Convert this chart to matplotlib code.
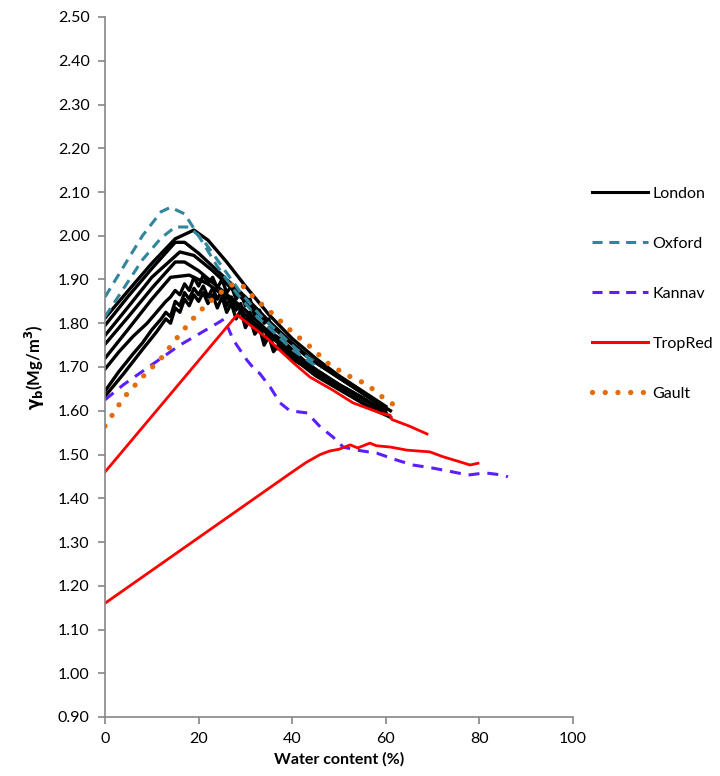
import numpy as np
import matplotlib.pyplot as plt
from matplotlib.lines import Line2D
from matplotlib.ticker import FormatStrFormatter, MultipleLocator

plt.rcParams['font.family'] = ['Lato', 'DejaVu Sans']

# --- compaction curves: water content (%) vs bulk unit weight (Mg/m3) ---
london_w = [
    [0, 5, 10, 15, 19, 22, 26, 30, 35, 40, 45, 50, 55, 60],
    [0, 5, 10, 15, 17, 20, 25, 30, 35, 40, 45, 50, 55, 59],
    [0, 5, 10, 16, 19, 23, 28, 33, 38, 43, 48, 53, 58, 61],
    [0, 5, 10, 15, 17, 20, 25, 30, 35, 40, 45, 50, 55, 60],
    [0, 5, 10, 14, 18, 22, 27, 32, 37, 42, 47, 52, 57, 60],
    [0, 3, 6, 9, 11, 13, 14, 15, 16, 17, 18, 19, 20, 21, 22, 23, 24, 25, 26, 27,
     28, 29, 30, 31, 32, 33, 34, 35, 36, 38, 41, 44, 47, 50, 55, 59],
    [0, 3, 6, 8, 10, 12, 13, 14, 15, 16, 17, 18, 19, 20, 21, 22, 23, 24, 25, 26,
     27, 28, 29, 30, 31, 32, 33, 34, 35, 36, 38, 40, 43, 46, 50, 54, 58],
    [0, 4, 8, 11, 13, 14, 15, 16, 17, 18, 19, 20, 21, 22, 23, 24, 25, 26, 27, 28,
     29, 30, 31, 32, 33, 34, 35, 36, 37, 39, 42, 45, 49, 53, 57, 61],
]
london_g = [
    [1.812, 1.875, 1.937, 1.993, 2.013, 1.99, 1.94, 1.885, 1.82, 1.765, 1.72, 1.68, 1.645, 1.61],
    [1.795, 1.862, 1.925, 1.985, 1.985, 1.96, 1.91, 1.86, 1.805, 1.755, 1.71, 1.675, 1.64, 1.61],
    [1.772, 1.838, 1.905, 1.963, 1.955, 1.92, 1.87, 1.82, 1.77, 1.725, 1.69, 1.655, 1.62, 1.60],
    [1.752, 1.815, 1.88, 1.94, 1.94, 1.92, 1.875, 1.83, 1.78, 1.735, 1.695, 1.66, 1.63, 1.595],
    [1.72, 1.787, 1.855, 1.905, 1.91, 1.89, 1.85, 1.80, 1.755, 1.71, 1.675, 1.645, 1.615, 1.60],
    [1.695, 1.735, 1.77, 1.80, 1.825, 1.85, 1.86, 1.875, 1.865, 1.89, 1.875, 1.905, 1.885, 1.91,
     1.89, 1.905, 1.88, 1.90, 1.87, 1.885, 1.855, 1.87, 1.84, 1.855, 1.815, 1.83, 1.80, 1.81,
     1.775, 1.76, 1.73, 1.70, 1.68, 1.66, 1.63, 1.60],
    [1.645, 1.69, 1.73, 1.755, 1.785, 1.81, 1.825, 1.815, 1.85, 1.84, 1.87, 1.855, 1.88, 1.865,
     1.885, 1.86, 1.88, 1.855, 1.875, 1.84, 1.86, 1.83, 1.845, 1.80, 1.825, 1.785, 1.80, 1.755,
     1.79, 1.74, 1.745, 1.72, 1.70, 1.675, 1.65, 1.625, 1.60],
    [1.633, 1.685, 1.74, 1.78, 1.81, 1.80, 1.835, 1.825, 1.855, 1.84, 1.865, 1.85, 1.87, 1.845,
     1.865, 1.835, 1.86, 1.825, 1.845, 1.81, 1.83, 1.79, 1.81, 1.775, 1.79, 1.75, 1.77, 1.735,
     1.75, 1.725, 1.705, 1.68, 1.655, 1.63, 1.605, 1.585],
]

oxford_w = [
    [0, 4, 8, 12, 14, 17, 20, 24, 28, 32, 36, 40, 44, 46],
    [0, 4, 8, 12, 15, 18, 21, 25, 29, 33, 37, 41, 45],
]
oxford_g = [
    [1.86, 1.93, 2.00, 2.055, 2.065, 2.05, 2.00, 1.93, 1.87, 1.82, 1.78, 1.74, 1.71, 1.695],
    [1.815, 1.88, 1.945, 1.995, 2.02, 2.02, 1.99, 1.93, 1.87, 1.82, 1.78, 1.74, 1.71],
]

kannav_w = [0, 4, 8, 12, 16, 20, 24, 25.5, 27.4, 30.3, 32.4, 33, 35.3, 37.4, 39.5, 43.2,
            46, 48.7, 50.9, 53.8, 58.1, 62.4, 65.8, 70, 74.4, 77.6, 81.2, 85, 86.1]
kannav_g = [1.625, 1.66, 1.69, 1.72, 1.75, 1.775, 1.80, 1.81, 1.762, 1.716, 1.689, 1.686,
            1.654, 1.618, 1.60, 1.595, 1.563, 1.54, 1.517, 1.51, 1.503, 1.487, 1.476,
            1.469, 1.46, 1.453, 1.458, 1.453, 1.449]

tropred_w = [
    [0, 28.2, 31.7, 34.6, 40.2, 43.8, 48.7, 53, 58.8, 60.9, 61.3, 65, 68.8],
    [0, 20, 40, 43, 46, 48, 50, 52.4, 54, 56.6, 58, 61, 64.5, 69.4, 72.2, 75.9, 78, 79.7],
]
tropred_g = [
    [1.46, 1.819, 1.79, 1.766, 1.71, 1.677, 1.647, 1.618, 1.595, 1.59, 1.58, 1.565, 1.547],
    [1.16, 1.31, 1.46, 1.482, 1.50, 1.508, 1.512, 1.522, 1.515, 1.526, 1.52, 1.517, 1.51,
     1.506, 1.495, 1.483, 1.476, 1.48],
]

gault_w = [0, 4, 8, 12, 16, 20, 24, 27, 29, 32, 36, 40, 44, 48, 52, 56, 60, 62]
gault_g = [1.565, 1.63, 1.677, 1.72, 1.775, 1.825, 1.865, 1.887, 1.89, 1.857, 1.82, 1.78,
           1.745, 1.705, 1.68, 1.66, 1.625, 1.612]

c_london = 'black'
c_oxford = '#31859C'
c_kannav = '#5B1FFF'
c_trop = '#FF0000'
c_gault = '#E46C0A'

fig = plt.figure(figsize=(7.2, 7.76), dpi=100)
ax = fig.add_axes([105 / 720, 1 - 717 / 776, 468 / 720, 700 / 776])

for w, g in zip(london_w, london_g):
    ax.plot(w, g, color=c_london, lw=2.4, solid_joinstyle='round')
for w, g in zip(oxford_w, oxford_g):
    ax.plot(w, g, color=c_oxford, lw=2.2, linestyle=(0, (3.3, 2.2)))
ax.plot(kannav_w, kannav_g, color=c_kannav, lw=2.2, linestyle=(0, (3.6, 2.6)))
for w, g in zip(tropred_w, tropred_g):
    ax.plot(w, g, color=c_trop, lw=2.0)
ax.plot(gault_w, gault_g, color=c_gault, lw=3.8, linestyle=(0, (0.01, 2.4)),
        dash_capstyle='round')

ax.set_xlim(0, 100)
ax.set_ylim(0.90, 2.50)
ax.xaxis.set_major_locator(MultipleLocator(20))
ax.yaxis.set_major_locator(MultipleLocator(0.10))
ax.yaxis.set_major_formatter(FormatStrFormatter('%.2f'))
for s in ['top', 'right']:
    ax.spines[s].set_visible(False)
for s in ['left', 'bottom']:
    ax.spines[s].set_color('#868686')
    ax.spines[s].set_linewidth(1.2)
ax.tick_params(direction='out', length=5, width=1.2, color='#868686',
               labelsize=11.5, pad=6)

ax.set_xlabel('Water content (%)', fontsize=11.5, fontweight='bold', labelpad=4)
ax.set_ylabel(r'$\mathbf{\gamma_b}$(Mg/m$^\mathbf{3}$)', fontsize=12,
              fontweight='bold', labelpad=8)

handles = [
    Line2D([], [], color=c_london, lw=2.2),
    Line2D([], [], color=c_oxford, lw=2.2, linestyle=(0, (3.3, 2.2))),
    Line2D([], [], color=c_kannav, lw=2.2, linestyle=(0, (3.3, 2.2))),
    Line2D([], [], color=c_trop, lw=2.2),
    Line2D([], [], color=c_gault, lw=3.8, linestyle=(0, (0.01, 2.4)), dash_capstyle='round'),
]
labels = ['London', 'Oxford', 'Kannav', 'TropRed', 'Gault']
ax.legend(handles, labels, loc='upper left', bbox_to_anchor=(1.04, 0.758),
          frameon=False, fontsize=11.5, handlelength=3.5, handletextpad=0.3,
          labelspacing=2.25, borderpad=0, borderaxespad=0)

fig.savefig('out.png', dpi=100)
